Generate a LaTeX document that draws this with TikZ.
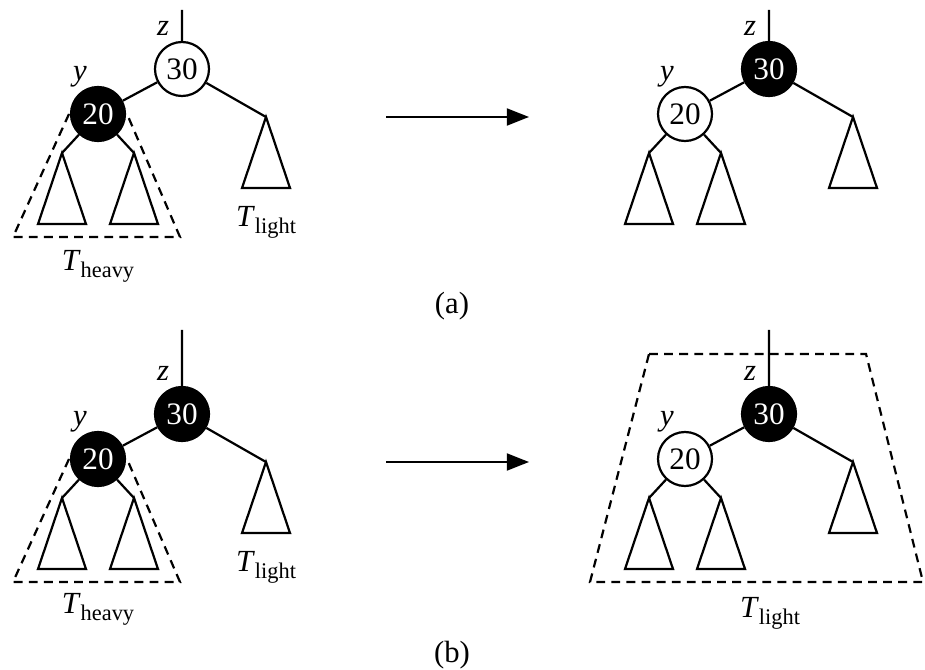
\documentclass[tikz,border=0pt]{standalone}
\usepackage{fontspec}
\setmainfont{Liberation Serif}
\usepackage{tikz}
\usetikzlibrary{arrows.meta, positioning}

\newcommand{\Tlab}[1]{\textit{T}\raisebox{-2.6pt}{\fontsize{8.6}{8.6}\selectfont #1}}

\begin{document}
\begin{tikzpicture}[
  x=0.0135cm, y=-0.0135cm,
  line width=0.85pt,
  key/.style={circle, draw, line width=0.85pt, minimum size=54*0.0135cm, inner sep=0pt, font=\fontsize{12}{12}\selectfont},
  blk/.style={key, fill=black, text=white},
  wht/.style={key, fill=white},
  lbl/.style={inner sep=0pt, font=\fontsize{11.8}{11.8}\selectfont},
  bound/.style={dashed, dash pattern=on 3.4pt off 2.4pt, line width=0.85pt},
  arrow/.style={-{Triangle[length=8.5pt, width=6.5pt]}, line width=0.85pt},
  subtree/.pic={\draw (0,0) -- (-24,71) -- (24,71) -- cycle;}
]
  \path[use as bounding box] (0,0) rectangle (925,670);

  % (a) before
  \begin{scope}[shift={(182,69)}, name prefix=aL-]
    \node[wht] (k30) at (0,0) {30};
    \node[blk] (k20) at (-84,45) {20};
    \coordinate (up) at (0,-59);
    \coordinate (rt) at (84,48);
    \coordinate (ll) at (-120,84);
    \coordinate (lr) at (-48,84);
    \node[lbl] (zl) at (-19,-41) {\textit{z}};
    \node[lbl] (yl) at (-102,8) {\textit{y}};
    \draw (up) -- (k30) (k30) -- (k20) (k30) -- (rt) (k20) -- (ll) (k20) -- (lr);
    \pic at (rt) {subtree};
    \pic at (ll) {subtree};
    \pic at (lr) {subtree};
    \draw[bound] (-113,45) -- (-169,168) -- (-2,168) -- (-55,45);
    \node[lbl] (heavy) at (-84,197) {\Tlab{heavy}};
    \node[lbl] (light) at (84,153) {\Tlab{light}};
  \end{scope}

  % (a) after
  \begin{scope}[shift={(769,69)}, name prefix=aR-]
    \node[blk] (k30) at (0,0) {30};
    \node[wht] (k20) at (-84,45) {20};
    \coordinate (up) at (0,-59);
    \coordinate (rt) at (84,48);
    \coordinate (ll) at (-120,84);
    \coordinate (lr) at (-48,84);
    \node[lbl] (zl) at (-19,-41) {\textit{z}};
    \node[lbl] (yl) at (-102,8) {\textit{y}};
    \draw (up) -- (k30) (k30) -- (k20) (k30) -- (rt) (k20) -- (ll) (k20) -- (lr);
    \pic at (rt) {subtree};
    \pic at (ll) {subtree};
    \pic at (lr) {subtree};
  \end{scope}

  % (b) before
  \begin{scope}[shift={(182,414)}, name prefix=bL-]
    \node[blk] (k30) at (0,0) {30};
    \node[blk] (k20) at (-84,45) {20};
    \coordinate (up) at (0,-84);
    \coordinate (rt) at (84,48);
    \coordinate (ll) at (-120,84);
    \coordinate (lr) at (-48,84);
    \node[lbl] (zl) at (-19,-41) {\textit{z}};
    \node[lbl] (yl) at (-102,8) {\textit{y}};
    \draw (up) -- (k30) (k30) -- (k20) (k30) -- (rt) (k20) -- (ll) (k20) -- (lr);
    \pic at (rt) {subtree};
    \pic at (ll) {subtree};
    \pic at (lr) {subtree};
    \draw[bound] (-113,45) -- (-169,168) -- (-2,168) -- (-55,45);
    \node[lbl] (heavy) at (-84,195) {\Tlab{heavy}};
    \node[lbl] (light) at (84,153) {\Tlab{light}};
  \end{scope}

  % (b) after
  \begin{scope}[shift={(769,414)}, name prefix=bR-]
    \node[blk] (k30) at (0,0) {30};
    \node[wht] (k20) at (-84,45) {20};
    \coordinate (up) at (0,-84);
    \coordinate (rt) at (84,48);
    \coordinate (ll) at (-120,84);
    \coordinate (lr) at (-48,84);
    \node[lbl] (zl) at (-19,-41) {\textit{z}};
    \node[lbl] (yl) at (-102,8) {\textit{y}};
    \draw (up) -- (k30) (k30) -- (k20) (k30) -- (rt) (k20) -- (ll) (k20) -- (lr);
    \pic at (rt) {subtree};
    \pic at (ll) {subtree};
    \pic at (lr) {subtree};
    \draw[bound] (-120,-60) -- (97,-60) -- (154,168) -- (-179,168) -- cycle;
    \node[lbl] (light) at (1,199) {\Tlab{light}};
  \end{scope}

  % rotation arrows
  \coordinate (aFrom) at (386,117);
  \coordinate (aTo) at (529,117);
  \coordinate (bFrom) at (386,462);
  \coordinate (bTo) at (529,462);
  \draw[arrow] (aFrom) -- (aTo);
  \draw[arrow] (bFrom) -- (bTo);

  \node[lbl] (capa) at (452,306) {(a)};
  \node[lbl] (capb) at (452,655) {(b)};
\end{tikzpicture}
\end{document}
